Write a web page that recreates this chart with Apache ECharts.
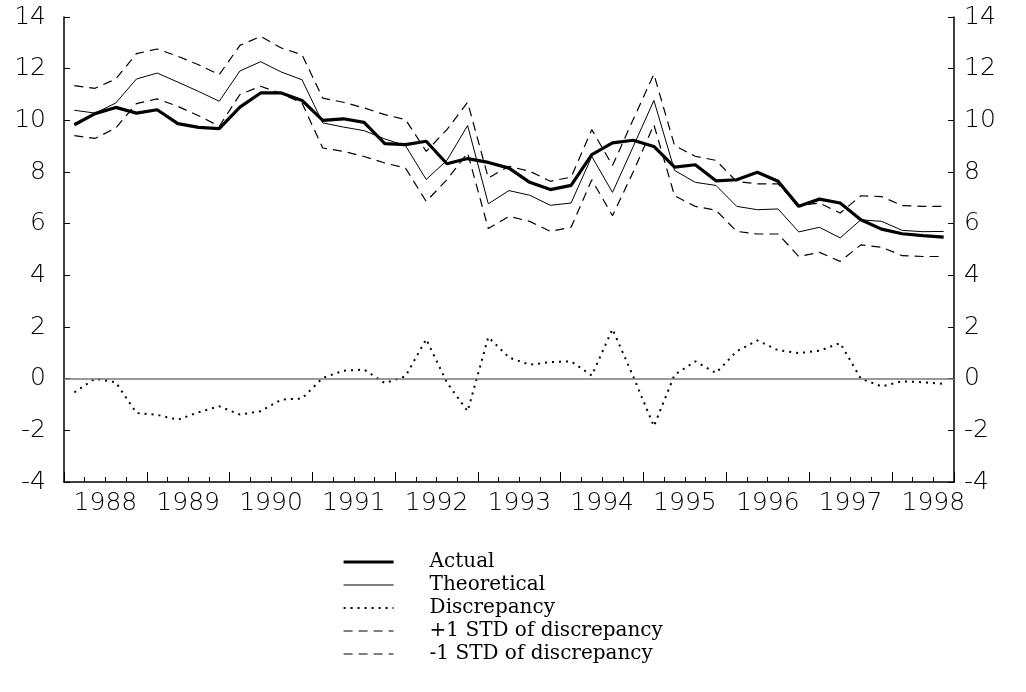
<!DOCTYPE html>
<html>
<head>
<meta charset="utf-8">
<script src="https://cdn.jsdelivr.net/npm/echarts@6/dist/echarts.min.js"></script>
<style>
  html, body { margin: 0; padding: 0; background: #fff; }
  #chart { width: 1026px; height: 692px; }
</style>
</head>
<body>
<div id="chart"></div>
<script>
  // quarters, 1988Q1 .. 1998Q3
  const periods = [
    '1988Q1','1988Q2','1988Q3','1988Q4','1989Q1','1989Q2','1989Q3','1989Q4',
    '1990Q1','1990Q2','1990Q3','1990Q4','1991Q1','1991Q2','1991Q3','1991Q4',
    '1992Q1','1992Q2','1992Q3','1992Q4','1993Q1','1993Q2','1993Q3','1993Q4',
    '1994Q1','1994Q2','1994Q3','1994Q4','1995Q1','1995Q2','1995Q3','1995Q4',
    '1996Q1','1996Q2','1996Q3','1996Q4','1997Q1','1997Q2','1997Q3','1997Q4',
    '1998Q1','1998Q2','1998Q3'
  ];
  const yearLabels = ['1988','1989','1990','1991','1992','1993','1994','1995','1996','1997','1998'];
  const yTicks = [-4, -2, 0, 2, 4, 6, 8, 10, 12, 14];

  const actual = [9.83,10.26,10.50,10.28,10.41,9.87,9.73,9.68,10.51,11.06,
    11.06,10.77,10.00,10.06,9.92,9.10,9.06,9.19,8.32,8.52,
    8.37,8.15,7.60,7.32,7.48,8.67,9.13,9.23,8.99,8.19,
    8.28,7.66,7.70,7.99,7.64,6.67,6.95,6.80,6.15,5.79,
    5.61,5.54,5.48];
  const theoretical = [10.39,10.28,10.67,11.60,11.83,11.48,11.12,10.74,11.91,12.27,
    11.87,11.57,9.90,9.74,9.60,9.28,9.02,7.71,8.45,9.80,
    6.77,7.28,7.10,6.71,6.80,8.60,7.21,8.98,10.77,8.06,
    7.60,7.48,6.67,6.54,6.57,5.68,5.86,5.45,6.15,6.09,
    5.74,5.69,5.70];
  const discrepancy = [-0.53,0.00,-0.14,-1.33,-1.40,-1.59,-1.30,-1.07,-1.39,-1.26,
    -0.81,-0.77,0.03,0.31,0.35,-0.17,0.09,1.53,-0.15,-1.26,
    1.61,0.82,0.54,0.64,0.67,0.12,1.92,0.09,-1.84,0.15,
    0.67,0.22,1.06,1.48,1.10,0.99,1.08,1.38,0.00,-0.30,
    -0.10,-0.14,-0.20];
  const upperStd = [11.34,11.24,11.60,12.58,12.76,12.48,12.15,11.77,12.90,13.25,
    12.80,12.54,10.86,10.70,10.48,10.22,10.03,8.80,9.64,10.70,
    7.77,8.22,8.03,7.64,7.80,9.64,8.25,10.03,11.79,9.02,
    8.61,8.45,7.63,7.54,7.54,6.70,6.80,6.41,7.08,7.05,
    6.70,6.67,6.67];
  const lowerStd = [9.41,9.30,9.70,10.65,10.83,10.54,10.18,9.77,11.00,11.32,
    11.03,10.67,8.93,8.80,8.60,8.35,8.15,6.86,7.70,8.74,
    5.81,6.28,6.09,5.70,5.86,7.70,6.31,8.00,9.83,7.08,
    6.67,6.52,5.70,5.60,5.60,4.73,4.89,4.54,5.18,5.09,
    4.76,4.73,4.73];

  // quarter -> position in the middle of the quarter on a year scale
  function qx(p) {
    return +p.slice(0, 4) + (+p.slice(5) - 0.5) / 4;
  }
  function pairs(vals) {
    return periods.map((p, i) => [qx(p), vals[i]]);
  }

  const axisFont = { fontFamily: 'DejaVu Sans', fontSize: 25, fontWeight: 200, color: '#000' };
  const xMin = +yearLabels[0];
  const xMax = qx(periods[periods.length - 1]) + 0.125;

  const dashed = { color: '#000', width: 1.2, type: [9, 6] };
  const dotted = { color: '#000', width: 2, type: [2, 5] };
  const thick = { color: '#000', width: 3.2 };
  const thin = { color: '#000', width: 1 };
  const noSym = { opacity: 0 };

  const chart = echarts.init(document.getElementById('chart'), null, { renderer: 'canvas' });
  chart.setOption({
    animation: false,
    backgroundColor: '#fff',
    color: ['#000'],
    grid: { left: 64, right: 72, top: 17, bottom: 210 },
    legend: {
      orient: 'vertical',
      left: 337,
      top: 547,
      itemWidth: 50,
      itemHeight: 14,
      itemGap: 3,
      selectedMode: false,
      textStyle: { fontFamily: 'DejaVu Serif', fontSize: 20, color: '#000', padding: [0, 0, 0, 31] },
      data: [
        { name: 'Actual', itemStyle: noSym, lineStyle: thick },
        { name: 'Theoretical', itemStyle: noSym, lineStyle: thin },
        { name: 'Discrepancy', itemStyle: noSym, lineStyle: dotted },
        { name: '+1 STD of discrepancy', itemStyle: noSym, lineStyle: dashed },
        { name: '-1 STD of discrepancy', itemStyle: noSym, lineStyle: dashed }
      ]
    },
    xAxis: [
      {
        type: 'value', min: xMin, max: xMax, interval: 1,
        axisLine: { onZero: false, lineStyle: { color: '#000', width: 1.5 } },
        axisTick: { inside: true, length: 10, lineStyle: { color: '#000' } },
        minorTick: { show: true, splitNumber: 4, length: 5, lineStyle: { color: '#000' } },
        axisLabel: { show: false },
        splitLine: { show: false }
      },
      {
        // year labels sit in the middle of each year band
        type: 'value', min: xMin, max: xMax, interval: 0.5, position: 'bottom',
        axisLine: { show: false }, axisTick: { show: false }, splitLine: { show: false },
        axisLabel: Object.assign({
          margin: 9,
          showMinLabel: true, showMaxLabel: true,
          formatter: v => {
            const y = Math.floor(v);
            return Math.abs(v - y - 0.5) < 1e-6 && yearLabels.indexOf(String(y)) >= 0 ? String(y) : '';
          }
        }, axisFont)
      }
    ],
    yAxis: [
      {
        type: 'value', min: yTicks[0], max: yTicks[yTicks.length - 1], interval: 2, position: 'left',
        axisLine: { show: true, onZero: false, lineStyle: { color: '#000', width: 1.5 } },
        axisTick: { show: true, inside: true, length: 6, lineStyle: { color: '#000' } },
        axisLabel: Object.assign({ margin: 18 }, axisFont),
        splitLine: { show: false }
      },
      {
        type: 'value', min: yTicks[0], max: yTicks[yTicks.length - 1], interval: 2, position: 'right',
        axisLine: { show: true, onZero: false, lineStyle: { color: '#000', width: 1.5 } },
        axisTick: { show: true, inside: true, length: 6, lineStyle: { color: '#000' } },
        axisLabel: Object.assign({ margin: 10 }, axisFont),
        splitLine: { show: false }
      }
    ],
    series: [
      {
        name: '+1 STD of discrepancy', type: 'line', data: pairs(upperStd),
        symbol: 'none', itemStyle: { color: '#000' }, lineStyle: dashed
      },
      {
        name: '-1 STD of discrepancy', type: 'line', data: pairs(lowerStd),
        symbol: 'none', itemStyle: { color: '#000' }, lineStyle: dashed
      },
      {
        name: 'Discrepancy', type: 'line', data: pairs(discrepancy),
        symbol: 'none', itemStyle: { color: '#000' }, lineStyle: dotted,
        markLine: {
          silent: true, symbol: 'none', label: { show: false },
          lineStyle: { color: '#777', width: 1.5, type: 'solid' },
          data: [{ yAxis: 0 }]
        }
      },
      {
        name: 'Theoretical', type: 'line', data: pairs(theoretical),
        symbol: 'none', itemStyle: { color: '#000' }, lineStyle: thin
      },
      {
        name: 'Actual', type: 'line', data: pairs(actual),
        symbol: 'none', itemStyle: { color: '#000' }, lineStyle: thick
      }
    ]
  });
</script>
</body>
</html>
